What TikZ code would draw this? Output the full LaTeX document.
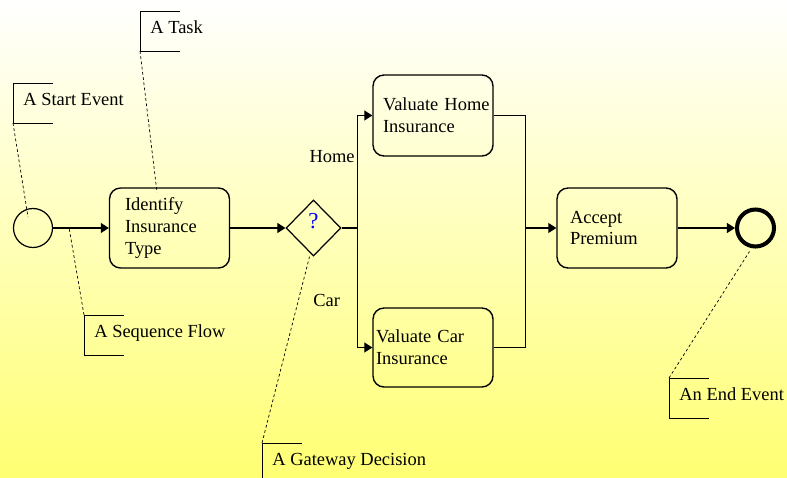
\documentclass[tikz,border=0pt]{standalone}
\usepackage{fontspec}
\setmainfont{Liberation Serif}
\usetikzlibrary{arrows.meta,shapes.geometric}

% open bracket of a text annotation, hung on the note's base west
\newcommand{\bracketnote}[1]{%
  \draw[line width=0.45pt] ([shift={(40,-22)}]#1.base west) -- ([shift={(0,-22)}]#1.base west)
    -- ([shift={(0,18)}]#1.base west) -- ([shift={(40,18)}]#1.base west);}

\begin{document}
\begin{tikzpicture}[x=0.02cm,y=-0.02cm,
  font=\fontsize{10.5}{12.5}\selectfont,
  task/.style={draw,line width=0.8pt,rounded corners=0.22cm,minimum width=2.4cm,minimum height=1.6cm,align=left},
  event/.style={draw,circle,line width=0.7pt,minimum size=0.78cm,inner sep=0pt},
  endevent/.style={draw,circle,line width=2.3pt,minimum size=0.74cm,inner sep=0pt},
  gateway/.style={draw,diamond,line width=0.7pt,minimum width=1.1cm,minimum height=1.12cm,inner sep=0pt},
  flow/.style={line width=0.6pt},
  seq/.style={flow,-{Triangle[length=1.6mm,width=2mm]}},
  note/.style={anchor=base west,inner xsep=0.2cm,inner ysep=0pt},
  assoc/.style={line width=0.4pt,dash pattern=on 1.6pt off 1.4pt}]
\useasboundingbox (0,0) rectangle (787,477);
\shade[top color=white,middle color=yellow!18,bottom color=yellow!55] (0,0) rectangle (787,477);

% process
\node[event] (start) at (33,228) {};
\node[task,inner xsep=0.3cm,text width=1.78cm] (identify) at (169.5,228) {Identify\\Insurance\\Type};
\node[gateway,text depth=8pt,font=\fontsize{13}{15}\selectfont] (gw) at (313.5,228) {\color{blue}?};
\node[task,inner xsep=0.2cm,text width=2cm,minimum height=1.62cm] (home) at (433,115.5) {\mbox{Valuate Home}\\Insurance};
\node[task,inner xsep=0.06cm,text width=2.28cm,minimum height=1.58cm] (car) at (433,347.5) {Valuate Car\\Insurance};
\node[task,inner xsep=0.26cm,text width=1.88cm] (accept) at (617,228) {Accept\\Premium};
\node[endevent] (finish) at (755.5,228) {};

\draw[seq] (start) -- (identify);
\draw[seq] (identify) -- (gw);
\draw[flow] (gw.east) -- ++(16,0) coordinate (split);
\draw[seq] (split) |- (home);
\draw[seq] (split) |- (car);
\coordinate (join) at (525.5,228);
\draw[flow] (home) -| (join);
\draw[flow] (car) -| (join);
\draw[seq] (join) -- (accept);
\draw[seq] (accept) -- (finish);

\node[anchor=base east,inner sep=0pt] (homelabel) at (355,162) {Home};
\node[anchor=base west,inner sep=0pt] (carlabel) at (313,306) {Car};

% annotations
\node[note] (nstart) at (13,105) {A Start Event};
\node[note] (ntask) at (140,33) {A Task};
\node[note] (nflow) at (84,337) {A Sequence Flow};
\node[note] (ngw) at (262,465) {A Gateway Decision};
\node[note] (nend) at (669,400) {An End Event};
\bracketnote{nstart}
\bracketnote{ntask}
\bracketnote{nflow}
\bracketnote{ngw}
\bracketnote{nend}

\draw[assoc] ([shift={(0,18)}]nstart.base west) -- ([shift={(-5,-11)}]start.center);
\draw[assoc] ([shift={(0,18)}]ntask.base west) -- ([shift={(-12.5,5)}]identify.north);
\draw[assoc] ([shift={(0,-22)}]nflow.base west) -- ([shift={(16,0)}]start.east);
\draw[assoc] ([shift={(0,-22)}]ngw.base west) -- ([shift={(-4,0)}]gw.south);
\draw[assoc] ([shift={(0,-22)}]nend.base west) -- ([shift={(-6,3)}]finish.south);
\end{tikzpicture}
\end{document}
